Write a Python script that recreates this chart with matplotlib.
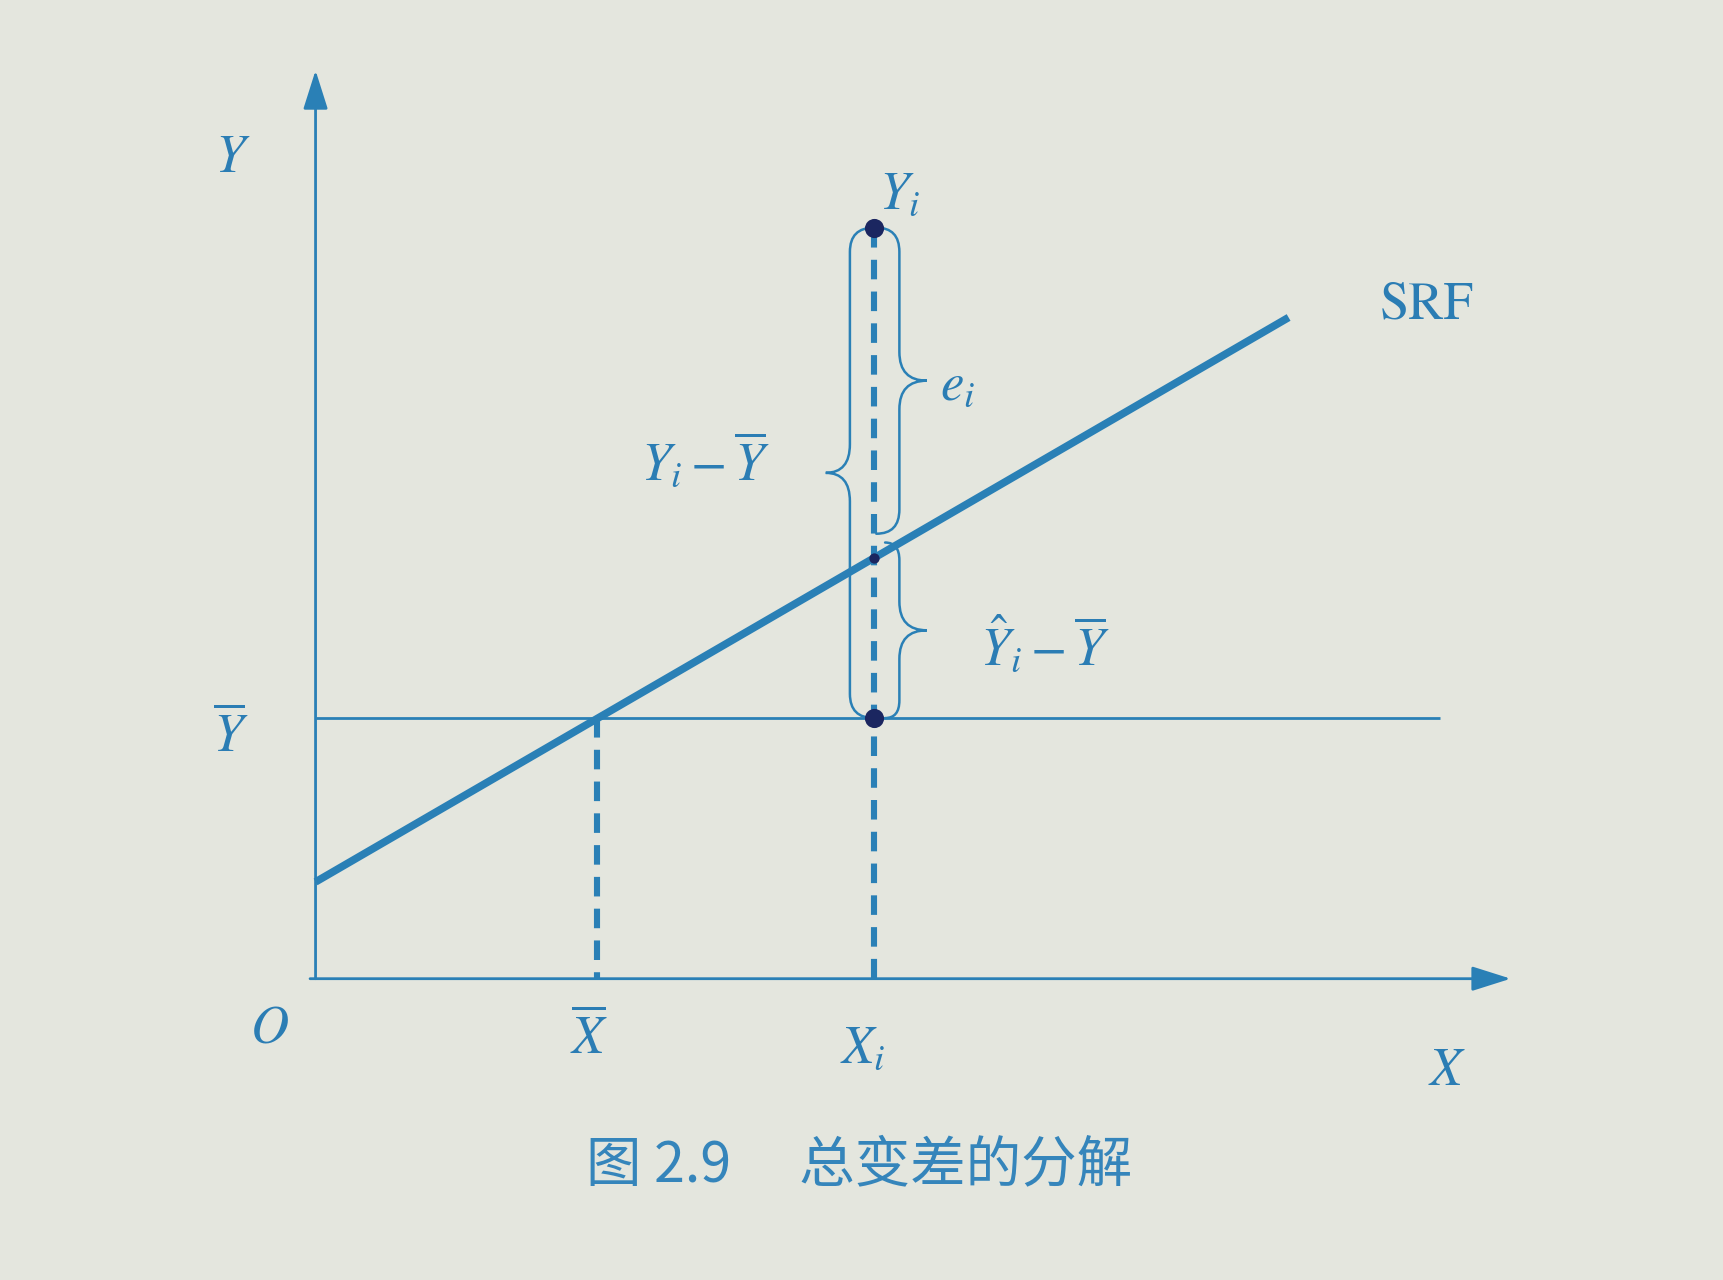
import matplotlib.pyplot as plt
from matplotlib.path import Path
from matplotlib.patches import PathPatch

plt.rcParams['mathtext.fontset'] = 'stix'
plt.rcParams['font.family'] = ['STIXGeneral', 'DejaVu Sans']

# values, origin at O
x_bar = 256
x_i = 508
y_bar = 237
y_i = 683
srf_intercept = 88
srf_slope = 0.58
srf_x = [0, 885]
ybar_x = [0, 1023]
x_axis_end = 1087
y_axis_end = 826

y_hat = srf_intercept + srf_slope * x_i

blue = '#2a80b6'
text_blue = '#2b7db4'
dot_col = '#1b2660'
paper = '#e4e6de'


def brace(ax, x_line, x_tip, x_end, y_top, y_bot, y_mid, r_end=22, r_tip=26):
    # curly brace drawn as a path of quadratic curves
    verts = [(x_end, y_top), (x_line, y_top), (x_line, y_top - r_end),
             (x_line, y_mid + r_tip),
             (x_line, y_mid), (x_tip, y_mid),
             (x_line, y_mid), (x_line, y_mid - r_tip),
             (x_line, y_bot + r_end),
             (x_line, y_bot), (x_end, y_bot)]
    codes = [Path.MOVETO, Path.CURVE3, Path.CURVE3,
             Path.LINETO,
             Path.CURVE3, Path.CURVE3,
             Path.CURVE3, Path.CURVE3,
             Path.LINETO,
             Path.CURVE3, Path.CURVE3]
    ax.add_patch(PathPatch(Path(verts, codes), fill=False, edgecolor=blue,
                           lw=1.8, capstyle='round', zorder=3))


fig = plt.figure(figsize=(17.24, 12.8), dpi=100, facecolor=paper)
ax = fig.add_axes([0, 0, 1, 1])
ax.set_facecolor(paper)
ax.set_xlim(-287, 1281)
ax.set_ylim(-274, 890)
ax.axis('off')

# axes with arrow heads
arrow = dict(arrowstyle='-|>,head_length=1.2,head_width=0.38', lw=2, color=blue,
             shrinkA=0, shrinkB=0, mutation_scale=20)
ax.annotate('', xy=(x_axis_end, 0), xytext=(-5, 0), arrowprops=arrow)
ax.annotate('', xy=(0, y_axis_end), xytext=(0, 0), arrowprops=arrow)

# mean line and SRF
ax.plot(ybar_x, [y_bar, y_bar], color=blue, lw=2, solid_capstyle='butt')
srf_y = [srf_intercept + srf_slope * x for x in srf_x]
ax.plot(srf_x, srf_y, color=blue, lw=5.5, solid_capstyle='butt', zorder=4)

# dashed drop lines
ax.plot([x_bar, x_bar], [y_bar, 0], color=blue, lw=4.4, ls=(0, (3.2, 2.0)))
ax.plot([x_i, x_i], [y_i, 0], color=blue, lw=4.4, ls=(0, (3.2, 2.0)))

# points
ax.scatter([x_i, x_i], [y_i, y_bar], s=190, color=dot_col, zorder=6, linewidths=0)
ax.scatter([x_i], [y_hat], s=55, color=dot_col, zorder=6, linewidths=0)

# braces
brace(ax, x_i - 22, x_i - 44, x_i, y_i, y_bar, (y_i + y_bar) / 2)
brace(ax, x_i + 23, x_i + 48, x_i + 2, y_i, y_hat + 22, (y_i + y_hat + 22) / 2)
brace(ax, x_i + 23, x_i + 48, x_i + 10, y_hat + 14, y_bar, (y_hat + 14 + y_bar) / 2, r_end=16)

# labels
fs = 38
kw = dict(color=text_blue, fontsize=fs, ha='center', va='center')
ax.text(-75, 745, r'$Y$', **kw)
ax.text(-77, 220, r'$\overline{Y}$', **kw)
ax.text(-42, -47, r'$O$', **kw)
ax.text(249, -55, r'$\overline{X}$', **kw)
ax.text(498, -65, r'$X_i$', **kw)
ax.text(1029, -85, r'$X$', **kw)
ax.text(1011, 612, 'SRF', **kw)
ax.text(531, 712, r'$Y_i$', **kw)
ax.text(568, 538, r'$e_i$', color=text_blue, fontsize=fs, ha='left', va='center')
ax.text(355, 470, r'$Y_i - \overline{Y}$', **kw)
ax.text(663, 302, r'$\hat{Y}_i - \overline{Y}$', **kw)

ax.text(494, -170, '图 2.9\u3000 总变差的分解', color='#3585bb', fontsize=40,
        ha='center', va='center', family=['Noto Sans CJK SC', 'DejaVu Sans'])

plt.savefig('out.png', dpi=100, facecolor=paper)
